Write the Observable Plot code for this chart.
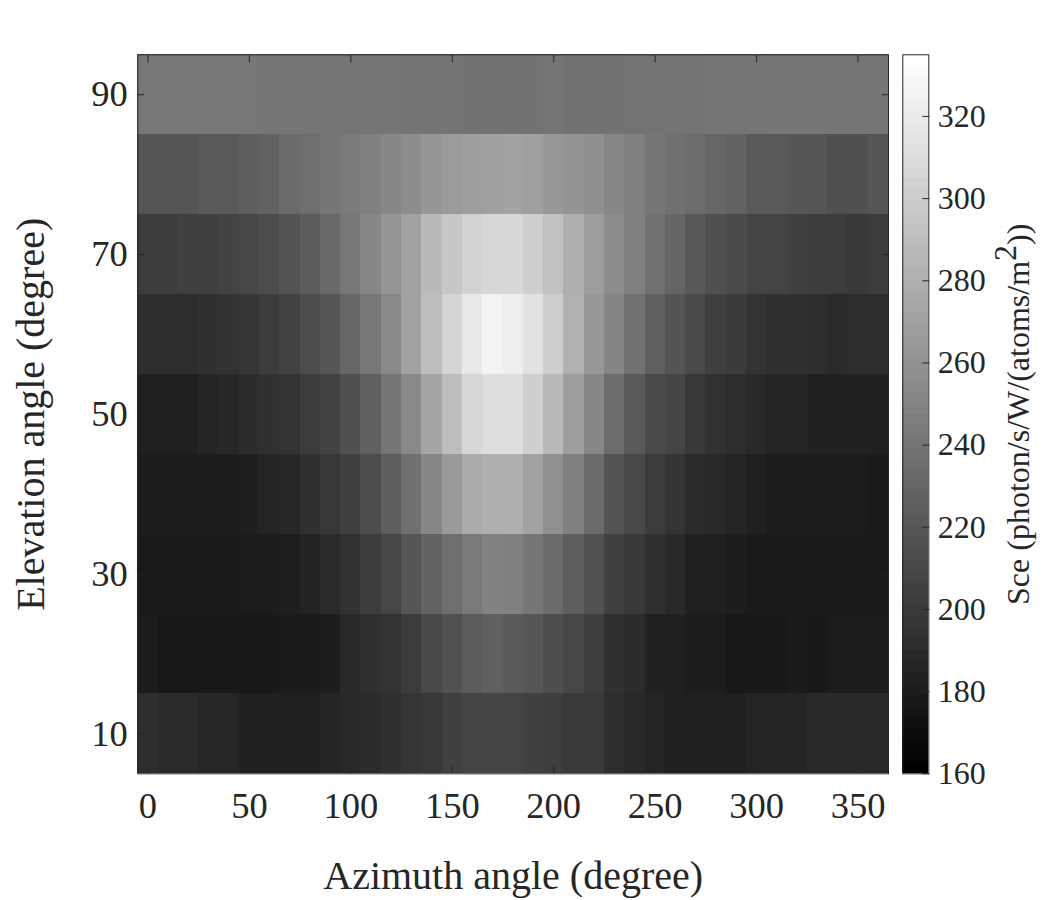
<!DOCTYPE html>
<html><head><meta charset="utf-8">
<script src="https://cdn.jsdelivr.net/npm/d3@7"></script>
<script src="https://cdn.jsdelivr.net/npm/@observablehq/plot@0.6"></script>
<style>
html,body{margin:0;padding:0;background:#fff}
#chart{position:relative;width:1050px;height:900px;overflow:hidden}
#chart svg{position:absolute;top:0;background:transparent}
</style></head><body><div id="chart"></div>
<script>
const azimuths = d3.range(0, 361, 10);
const elevations = [90, 80, 70, 60, 50, 40, 30, 20, 10];
const xTicks = [0, 50, 100, 150, 200, 250, 300, 350];
const yTicks = [10, 30, 50, 70, 90];
const barTicks = [160, 180, 200, 220, 240, 260, 280, 300, 320];
const sceRange = [160, 335];
const sce90 = [241.7,241.7,241.7,241.7,241.7,241.7,241,241,241,241,240.3,240.3,240.3,239.6,239.6,239.6,238.2,238.2,238.2,238.2,240.3,238.2,238.2,238.2,238.9,238.9,239.6,239.6,240.3,240.3,240.3,241,241,241,241,241,241];
const sce80 = [218.3,218.3,218.3,221.1,221.1,224.5,227.2,232.7,235.5,241,243.7,248.5,252.6,256.8,262.9,266.4,268.4,269.8,272.2,269.1,264.3,261.6,258.1,252,247.8,241,236.9,234.1,230,227.2,221.1,221.1,219,219,214.9,214.9,218.3];
const sce70 = [201.9,201.9,203.9,203.9,206,208.7,212.2,217.6,223.1,232.1,241.7,252.6,262.3,271.2,287.6,296.6,304.1,307.5,307.9,302.1,293.1,280.1,267.7,256.8,247.2,237.5,229.3,220.4,214.9,211.5,206.7,206.7,203.9,201.9,201.9,198.4,201.2];
const sce60 = [190.9,190.9,190.9,192.9,194.3,197.1,201.2,205.3,212.2,219,230,241.7,253.3,271.2,289.7,306.2,319.9,326.8,323.3,315.1,301.4,281.5,264.3,251.3,237.5,225.9,217.6,210.8,203.9,199.8,195,192.9,192.9,191.6,188.8,190.9,190.9];
const sce50 = [182,182,182,184.7,186.8,190.2,192.9,195,200.5,206,214.9,225.9,240.3,254,272.5,289.7,307.5,312.4,312.4,302.1,287,268.4,252.6,234.8,221.8,210.8,207.4,198.4,193.6,190.9,188.1,184.7,184.7,182.6,182.6,182.6,182.6];
const sce40 = [179.2,179.2,179.2,179.2,179.2,181.3,184.7,186.8,192.9,197.7,204.6,212.2,224.5,236.9,252.6,265.7,277.4,280.1,280.1,271.2,258.8,247.8,233.4,217.6,209.4,200.5,195.7,189.5,188.1,184.7,182,179.2,179.2,179.2,179.2,179.2,177.8];
const sce30 = [177.8,177.8,177.8,177.8,177.8,179.2,179.2,180.6,184,189.5,193.6,201.9,208,219,227.9,235.5,243,249.9,247.8,241,233.4,224.5,216.3,204.6,198.4,192.3,188.1,182,182,179.9,177.8,177.8,177.8,177.8,177.8,177.8,177.8];
const sce20 = [179.2,176.5,176.5,176.5,176.5,176.5,176.5,178.5,178.5,179.9,187.5,192.9,195,201.2,210.1,216.3,222.5,225.9,221.8,219,213.5,208,202.5,192.9,190.2,182.6,182,179.2,179.2,176.5,176.5,176.5,178.5,176.5,179.2,179.2,179.2];
const sce10 = [191.6,188.8,188.8,186.1,186.1,182,182,182,182,184.7,187.5,189.5,192.9,196.4,198.4,203.9,206.7,206.7,206.7,204.6,202.5,199.1,199.1,191.6,188.1,184.7,182,182,182,182,184.7,184.7,184.7,188.1,188.1,188.1,188.1];
const rows = [sce90, sce80, sce70, sce60, sce50, sce40, sce30, sce20, sce10];
const cells = rows.flatMap((r, j) => r.map((v, i) => ({az: azimuths[i], el: elevations[j], v})));

const colorScale = {type: "linear", domain: sceRange, range: ["#000", "#fff"], interpolate: "rgb"};
const serif = "'Liberation Serif','Times New Roman',serif";
const ink = "#262626";
const main = Plot.plot({
  width: 900, height: 900,
  marginLeft: 137.3, marginRight: 12, marginTop: 54.3, marginBottom: 126.7,
  style: {fontFamily: serif, background: "transparent", color: ink},
  x: {domain: [-5, 365]},
  y: {domain: [5, 95]},
  color: colorScale,
  marks: [
    Plot.rect(cells, {x1: d => d.az - 5, x2: d => d.az + 5, y1: d => d.el - 5, y2: d => d.el + 5, fill: "v", shapeRendering: "crispEdges"}),
    Plot.axisX({anchor: "top", ticks: xTicks, fill: "none", tickSize: -7, label: null, stroke: ink}),
    Plot.axisY({anchor: "right", ticks: yTicks, fill: "none", tickSize: -7, label: null, stroke: ink}),
    Plot.axisX({anchor: "bottom", ticks: xTicks, tickSize: -7, tickPadding: 25, fontSize: 36.5, stroke: ink, label: "Azimuth angle (degree)", labelAnchor: "center", labelArrow: "none", labelOffset: 115}),
    Plot.axisY({anchor: "left", ticks: yTicks, tickSize: -7, tickPadding: 17, fontSize: 36.5, stroke: ink, label: "Elevation angle (degree)", labelAnchor: "center", labelArrow: "none", labelOffset: 122}),
    Plot.frame({stroke: ink, strokeWidth: 1})
  ]
});
main.style.left = "0px";

const levels = d3.range(64);
const bar = Plot.plot({
  width: 148, height: 900,
  marginLeft: 2.3, marginRight: 119.7, marginTop: 54.3, marginBottom: 126.7,
  style: {fontFamily: serif, background: "transparent", color: ink},
  x: {domain: [0, 1], axis: null},
  y: {domain: sceRange},
  color: colorScale,
  marks: [
    Plot.rect(levels, {x1: 0, x2: 1,
      y1: k => sceRange[0] + k / 64 * (sceRange[1] - sceRange[0]),
      y2: k => sceRange[0] + (k + 1) / 64 * (sceRange[1] - sceRange[0]),
      fill: k => sceRange[0] + k / 63 * (sceRange[1] - sceRange[0]), shapeRendering: "crispEdges"}),
    Plot.axisY({anchor: "right", ticks: barTicks, tickSize: -7, tickPadding: 16, fontSize: 32, stroke: ink, label: "Sce (photon/s/W/(atoms/m2))", labelAnchor: "center", labelArrow: "none", labelOffset: 100}),
    Plot.frame({stroke: ink, strokeWidth: 1})
  ]
});
bar.style.left = "900px";
const chart = document.getElementById("chart");
chart.append(main, bar);

// axis titles are larger than the tick labels
main.querySelectorAll("text").forEach(t => {
  if (t.textContent.includes("angle")) t.style.fontSize = "40px";
});
// raise the exponent in the colour-bar title
bar.querySelectorAll("text").forEach(t => {
  if (t.textContent.startsWith("Sce")) {
    t.style.fontSize = "32px";
    t.textContent = "Sce (photon/s/W/(atoms/m";
    const ns = "http://www.w3.org/2000/svg";
    const s = document.createElementNS(ns, "tspan"); s.setAttribute("dy", "-0.4em"); s.textContent = "2";
    const e = document.createElementNS(ns, "tspan"); e.setAttribute("dy", "0.4em"); e.textContent = "))";
    t.append(s, e);
  }
});
</script></body></html>
